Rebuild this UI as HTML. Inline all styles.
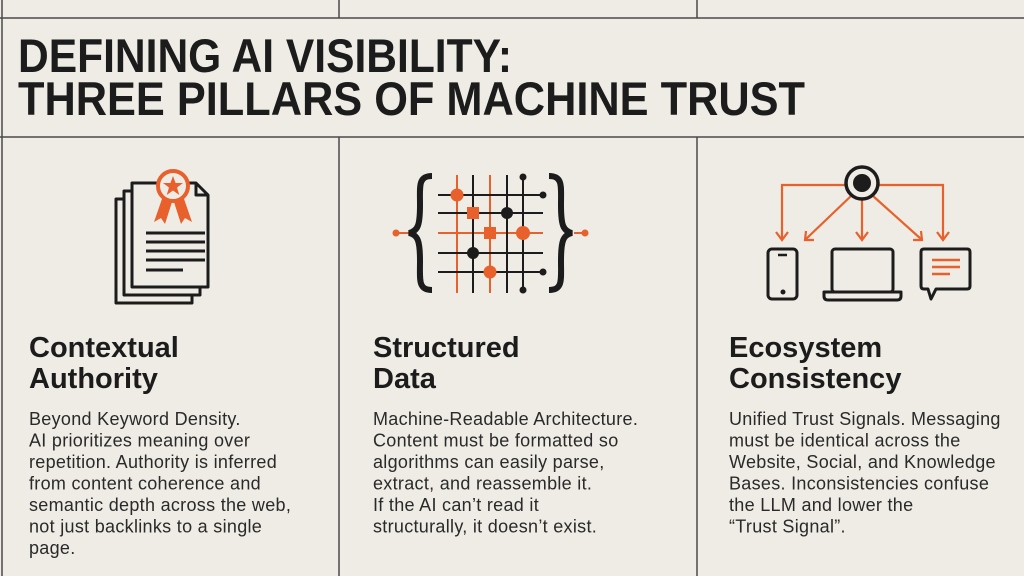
<!DOCTYPE html>
<html><head><meta charset="utf-8"><style>
html,body{margin:0;padding:0;background:#eeece4;}
svg{display:block}
</style></head><body>
<svg width="1024" height="576" viewBox="0 0 1024 576" xmlns="http://www.w3.org/2000/svg">
<rect width="1024" height="576" fill="#eeece4"/>
<g stroke="#4a4a4a" stroke-width="1.5">
<line x1="0" y1="18" x2="1024" y2="18"/>
<line x1="0" y1="137" x2="1024" y2="137"/>
<line x1="2" y1="0" x2="2" y2="576"/>
<line x1="339" y1="0" x2="339" y2="18"/><line x1="697" y1="0" x2="697" y2="18"/>
<line x1="339" y1="137" x2="339" y2="576"/><line x1="697" y1="137" x2="697" y2="576"/>
</g>
<g font-family="Liberation Sans, sans-serif" font-weight="bold" fill="#1c1c1c" font-size="47">
<text x="18" y="72" textLength="494" lengthAdjust="spacingAndGlyphs">DEFINING AI VISIBILITY:</text>
<text x="18" y="115" textLength="787" lengthAdjust="spacingAndGlyphs">THREE PILLARS OF MACHINE TRUST</text>
</g>
<g font-family="Liberation Sans, sans-serif" font-weight="bold" fill="#1c1c1c" font-size="29">
<text x="29" y="357">Contextual</text><text x="29" y="388">Authority</text>
<text x="373" y="357">Structured</text><text x="373" y="388">Data</text>
<text x="729" y="357">Ecosystem</text><text x="729" y="388">Consistency</text>
</g>
<g font-family="Liberation Sans, sans-serif" fill="#2a2a2a" font-size="18" letter-spacing="0.3">
<text x="29" y="425">Beyond Keyword Density.</text>
<text x="29" y="446.5">AI prioritizes meaning over</text>
<text x="29" y="468">repetition. Authority is inferred</text>
<text x="29" y="489.5">from content coherence and</text>
<text x="29" y="511">semantic depth across the web,</text>
<text x="29" y="532.5">not just backlinks to a single</text>
<text x="29" y="554">page.</text>
<text x="373" y="425">Machine-Readable Architecture.</text>
<text x="373" y="446.5">Content must be formatted so</text>
<text x="373" y="468">algorithms can easily parse,</text>
<text x="373" y="489.5">extract, and reassemble it.</text>
<text x="373" y="511">If the AI can’t read it</text>
<text x="373" y="532.5">structurally, it doesn’t exist.</text>
<text x="729" y="425">Unified Trust Signals. Messaging</text>
<text x="729" y="446.5">must be identical across the</text>
<text x="729" y="468">Website, Social, and Knowledge</text>
<text x="729" y="489.5">Bases. Inconsistencies confuse</text>
<text x="729" y="511">the LLM and lower the</text>
<text x="729" y="532.5">“Trust Signal”.</text>
</g>
<!-- icon 1 -->
<g fill="#eeece4" stroke="#1c1c1c" stroke-width="3" stroke-linejoin="round">
<rect x="116" y="199" width="76" height="104"/>
<rect x="124" y="191" width="76" height="104"/>
<path d="M132 183 H196 L208 195 V287 H132 Z"/>
<path d="M196 183 V195 H208" fill="none"/>
</g>
<g stroke="#1c1c1c" stroke-width="3">
<line x1="146" y1="233" x2="205" y2="233"/><line x1="146" y1="242" x2="205" y2="242"/>
<line x1="146" y1="251" x2="205" y2="251"/><line x1="146" y1="260" x2="205" y2="260"/>
<line x1="146" y1="270" x2="183" y2="270"/>
</g>
<g fill="#e8602c">
<path d="M163 196 L154 222 L161 218 L165 224 L172 202 Z"/>
<path d="M183 196 L192 222 L185 218 L181 224 L174 202 Z"/>
<circle cx="173" cy="186" r="15" fill="#eeece4" stroke="#e8602c" stroke-width="4"/>
<path d="M173 176 L175.6 183 L183 183 L177 187.5 L179.3 195 L173 190.5 L166.7 195 L169 187.5 L163 183 L170.4 183 Z"/>
</g>
<!-- icon 2 -->
<g stroke="#e8602c" stroke-width="2">
<line x1="457" y1="175" x2="457" y2="293"/><line x1="490" y1="175" x2="490" y2="293"/>
<line x1="438" y1="233" x2="543" y2="233"/>
<line x1="396" y1="233" x2="410" y2="233"/><line x1="574" y1="233" x2="584" y2="233"/>
</g>
<g stroke="#1c1c1c" stroke-width="2">
<line x1="473" y1="175" x2="473" y2="293"/><line x1="507" y1="175" x2="507" y2="293"/><line x1="523" y1="175" x2="523" y2="290"/>
<line x1="438" y1="195" x2="543" y2="195"/><line x1="438" y1="213" x2="543" y2="213"/>
<line x1="438" y1="253" x2="543" y2="253"/><line x1="438" y1="272" x2="543" y2="272"/>
</g>
<path d="M432 176 C418 176 420 186 420 205 C420 225 418 231 409 233 C418 235 420 241 420 261 C420 280 418 290 432 290" fill="none" stroke="#1c1c1c" stroke-width="6"/>
<path d="M549 176 C563 176 561 186 561 205 C561 225 563 231 572 233 C563 235 561 241 561 261 C561 280 563 290 549 290" fill="none" stroke="#1c1c1c" stroke-width="6"/>
<g fill="#e8602c">
<circle cx="457" cy="195" r="6.5"/><rect x="467" y="207" width="12" height="12"/>
<rect x="484" y="227" width="12" height="12"/><circle cx="523" cy="233" r="7"/>
<circle cx="490" cy="272" r="6.5"/><circle cx="396" cy="233" r="3.5"/><circle cx="585" cy="233" r="3.5"/>
</g>
<g fill="#1c1c1c">
<circle cx="507" cy="213" r="6"/><circle cx="473" cy="253" r="6"/>
<circle cx="523" cy="177" r="3.5"/><circle cx="543" cy="195" r="3.5"/>
<circle cx="543" cy="272" r="3.5"/><circle cx="523" cy="290" r="3.5"/>
</g>
<!-- icon 3 -->
<g stroke="#e8602c" stroke-width="2.2" fill="none">
<path d="M845 185 H782 V239"/><path d="M776 232 L782 240 L788 232"/>
<path d="M879 185 H943 V239"/><path d="M937 232 L943 240 L949 232"/>
<line x1="862" y1="200" x2="862" y2="239"/><path d="M856 232 L862 240 L868 232"/>
<line x1="851" y1="196" x2="806" y2="239"/><path d="M806 231 L805 240 L814 240"/>
<line x1="873" y1="196" x2="921" y2="239"/><path d="M921 231 L922 240 L913 240"/>
</g>
<circle cx="862" cy="183" r="16" fill="#eeece4" stroke="#1c1c1c" stroke-width="3.5"/>
<circle cx="862" cy="183" r="9" fill="#1c1c1c"/>
<g stroke="#1c1c1c" stroke-width="3" fill="none" stroke-linejoin="round">
<rect x="768" y="249" width="29" height="50" rx="4"/>
<rect x="832" y="249" width="61" height="43" rx="3"/>
<path d="M824 292 H901 V296 Q901 300 897 300 H828 Q824 300 824 296 Z"/>
<path d="M924 249 H967 Q970 249 970 252 V286 Q970 289 967 289 H936 L931 299 L928 289 H924 Q921 289 921 286 V252 Q921 249 924 249 Z"/>
</g>
<line x1="778" y1="255" x2="787" y2="255" stroke="#1c1c1c" stroke-width="2.5"/>
<circle cx="783" cy="292" r="2.5" fill="#1c1c1c"/>
<g stroke="#e8602c" stroke-width="2.5">
<line x1="932" y1="260" x2="960" y2="260"/><line x1="932" y1="267" x2="960" y2="267"/><line x1="932" y1="274" x2="950" y2="274"/>
</g>
</svg>
</body></html>
